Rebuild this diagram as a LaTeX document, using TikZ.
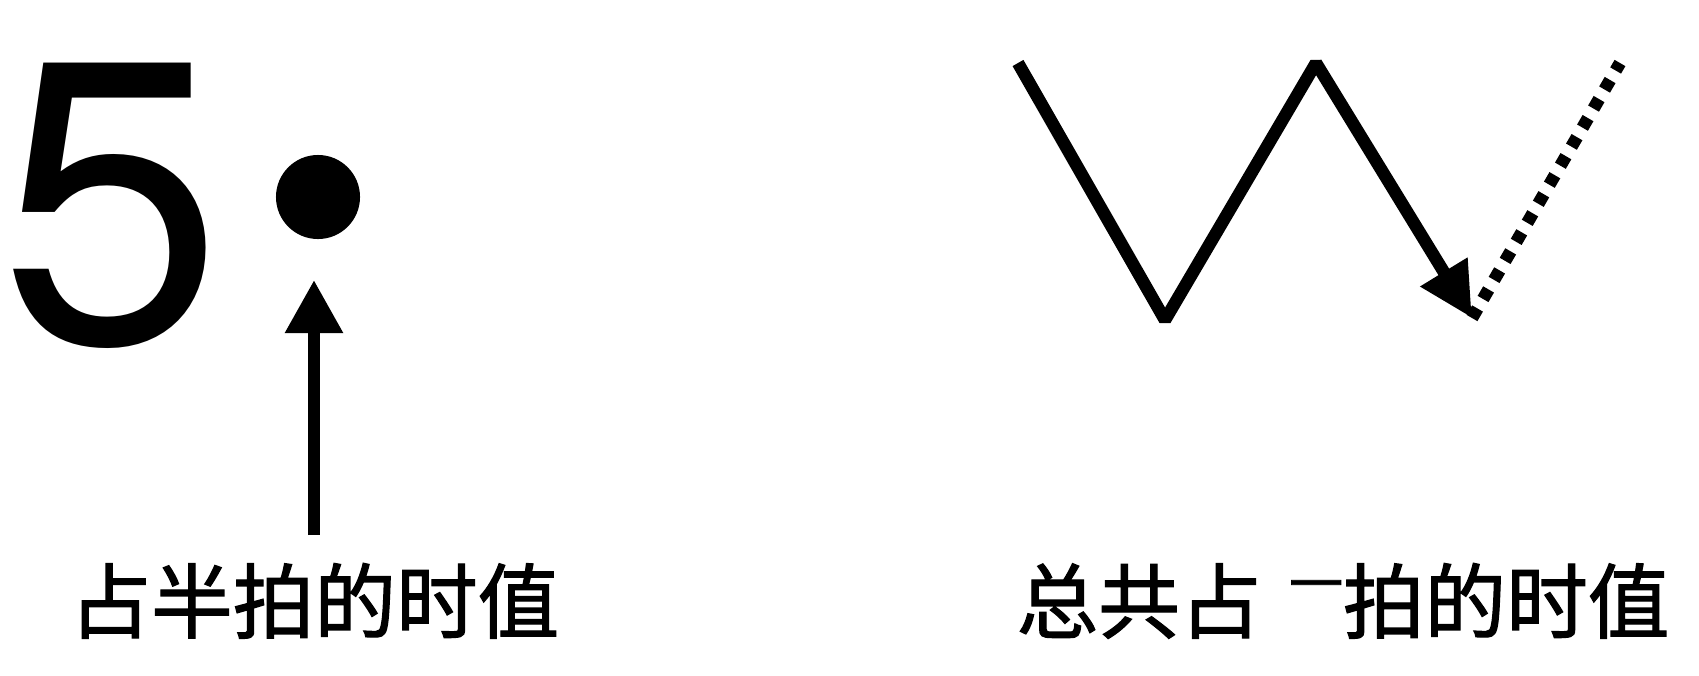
\documentclass[tikz,border=0pt]{standalone}
\usepackage{fontspec}
\setmainfont{Liberation Sans}
\newfontfamily\digitfont{TeX Gyre Heros}
\newfontfamily\cjk[FakeBold=1.5]{Noto Sans CJK SC}
\usetikzlibrary{arrows.meta}
\begin{document}
\begin{tikzpicture}[x=0.01cm,y=-0.01cm,
  lbl/.style={inner sep=0pt,anchor=base west,font=\cjk\fontsize{23.2pt}{23.2pt}\selectfont},
  bigdigit/.style={inner sep=0pt,anchor=base west,font=\digitfont\fontsize{114.5pt}{114.5pt}\selectfont},
  thickline/.style={line width=0.125cm,line join=bevel},
  dotline/.style={line width=0.125cm,dash pattern=on 0.11cm off 0.11cm}]
\useasboundingbox (0,0) rectangle (1699,675);
% left part
\node[bigdigit] (five) at (-1,342) {5};
\node[circle,fill=black,inner sep=0pt,minimum size=0.84cm] (dot) at (318,197) {};
\coordinate (a1) at (314,535);
\coordinate (a2) at (314,280);
\draw[line width=0.12cm,-{Triangle[length=0.53cm,width=0.55cm]}] (a1) -- (a2);
\node[lbl] (l1) at (69,632) {占半拍的时值};
% right part
\coordinate (z1) at (1018,63);
\coordinate (z2) at (1165,320);
\coordinate (z3) at (1316,63);
\coordinate (z4) at (1472,318);
\coordinate (z5) at (1620,63);
\draw[thickline,-{Triangle[length=0.54cm,width=0.52cm]}] (z1) -- (z2) -- (z3) -- (z4);
\draw[dotline] (z4) -- (z5);
\node[lbl] (l2) at (1016,632) {总共占\kern0.34em\raisebox{0.35em}{\fontsize{15.3pt}{15.3pt}\selectfont 一}拍的时值};
\end{tikzpicture}
\end{document}
